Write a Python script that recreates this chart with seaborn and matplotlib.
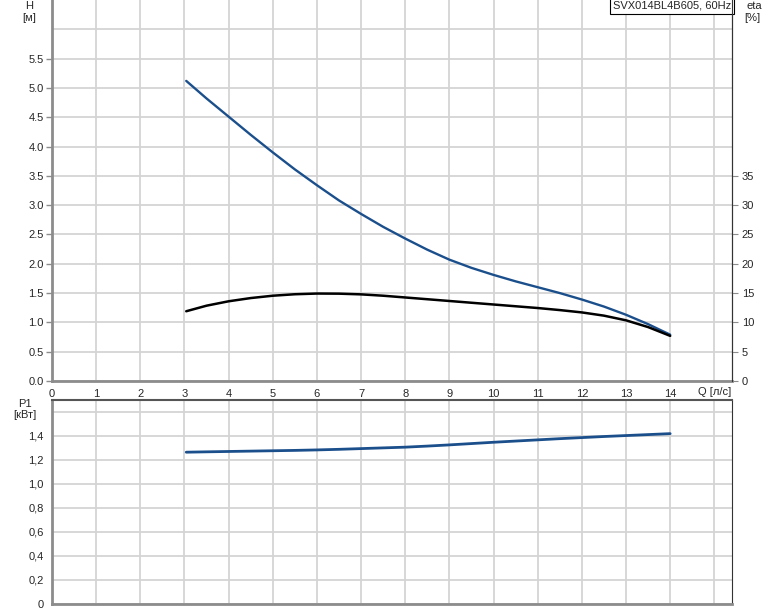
import matplotlib
matplotlib.use('Agg')
import matplotlib.pyplot as plt
import pandas as pd
import seaborn as sns

# Pontos
q = [3.04, 3.5, 4, 4.5, 5, 5.5, 6, 6.5, 7, 7.5, 8, 8.5, 9, 9.5, 10, 10.5, 11, 11.5, 12, 12.5, 13, 13.5, 14]
h = [5.12, 4.82, 4.51, 4.20, 3.90, 3.61, 3.34, 3.08, 2.85, 2.63, 2.43, 2.24, 2.07, 1.93, 1.81, 1.70,
     1.60, 1.50, 1.39, 1.27, 1.13, 0.97, 0.79]
eta = [11.9, 12.85, 13.6, 14.15, 14.55, 14.8, 14.92, 14.9, 14.78, 14.55, 14.25, 13.95, 13.65, 13.35,
       13.05, 12.75, 12.45, 12.1, 11.7, 11.15, 10.35, 9.2, 7.7]
p1 = [1.264, 1.267, 1.27, 1.273, 1.276, 1.279, 1.283, 1.288, 1.294, 1.30, 1.306, 1.315, 1.325, 1.336,
      1.347, 1.357, 1.367, 1.377, 1.386, 1.395, 1.403, 1.411, 1.419]

h_ticks = [0.0, 0.5, 1.0, 1.5, 2.0, 2.5, 3.0, 3.5, 4.0, 4.5, 5.0, 5.5]
eta_ticks = [0, 5, 10, 15, 20, 25, 30, 35]
p_ticks = [0, 0.2, 0.4, 0.6, 0.8, 1.0, 1.2, 1.4, 1.6]
q_ticks = list(range(0, 15))

df = pd.DataFrame({'q': q, 'h': h, 'eta': eta, 'p1': p1})

sns.set_style('white')
plt.rcParams['font.family'] = ['Liberation Sans', 'DejaVu Sans']
plt.rcParams['font.size'] = 8

azul = '#1b4f8c'
cinza = '#8c8c8c'
grade = '#d4d4d4'

fig = plt.figure(figsize=(7.74, 6.11), dpi=100)
ax = fig.add_axes([52 / 774, 1 - 381 / 611, 680 / 774, 381 / 611])
ax2 = ax.twinx()
axp = fig.add_axes([52 / 774, 1 - 603.5 / 611, 680 / 774, 203.5 / 611])

sns.lineplot(data=df, x='q', y='h', ax=ax, color=azul, linewidth=1.7)
sns.lineplot(data=df, x='q', y='eta', ax=ax2, color='black', linewidth=1.8)
sns.lineplot(data=df, x='q', y='p1', ax=axp, color=azul, linewidth=2)

for a in (ax, axp):
    a.set_xlim(0, 15.4)
    a.set_xticks(q_ticks)
    a.set_xticks([15], minor=True)
    a.grid(True, which='both', color=grade, linewidth=1.3)
    a.set_axisbelow(True)
    a.set_xlabel('')
    a.set_ylabel('')
    for s in ('left', 'bottom'):
        a.spines[s].set_color(cinza)
        a.spines[s].set_linewidth(2)
    a.spines['right'].set_color('#333333')
    a.spines['right'].set_linewidth(0.8)
    a.spines['top'].set_color('#555555')
    a.spines['top'].set_linewidth(1.5)
    a.tick_params(axis='both', which='major', direction='out', length=4, width=1, color=cinza,
                  labelsize=8, pad=2)
    a.tick_params(axis='both', which='minor', length=0)

# eixo superior
ax.set_ylim(0, 6.5)
ax.set_yticks(h_ticks)
ax.set_yticks([6.0], minor=True)
ax.set_yticklabels([f'{v:.1f}' for v in h_ticks])
ax.set_xticklabels([str(v) for v in q_ticks])
ax2.set_ylim(0, 65)
ax2.set_yticks(eta_ticks)
ax2.set_yticklabels([str(v) for v in eta_ticks])
ax2.set_ylabel('')
ax2.tick_params(axis='y', direction='out', length=4, color=cinza, labelsize=8, pad=3)
for s in ax2.spines.values():
    s.set_visible(False)
ax2.spines['right'].set_visible(True)
ax2.spines['right'].set_color('#333333')
ax2.spines['right'].set_linewidth(0.8)
ax.spines['top'].set_visible(False)

# eixo inferior
axp.set_ylim(0, 1.7)
axp.set_yticks(p_ticks)
axp.set_yticklabels(['0'] + [f'{v:.1f}'.replace('.', ',') for v in p_ticks[1:-1]] + [''])
axp.tick_params(axis='x', which='both', length=0, labelbottom=False)

# rótulos
fig.text(29 / 774, 1 - 1 / 611, 'H', ha='center', va='top', fontsize=8)
fig.text(29 / 774, 1 - 13 / 611, '[м]', ha='center', va='top', fontsize=8)
fig.text(754 / 774, 1 - 1 / 611, 'eta', ha='center', va='top', fontsize=8)
fig.text(752 / 774, 1 - 13 / 611, '[%]', ha='center', va='top', fontsize=8)
fig.text(715 / 774, 1 - 392 / 611, 'Q [л/с]', ha='center', va='center', fontsize=8)
fig.text(25 / 774, 1 - 399 / 611, 'P1', ha='center', va='top', fontsize=8)
fig.text(25 / 774, 1 - 410 / 611, '[кВт]', ha='center', va='top', fontsize=8)
ax.text(0.9985, 0.998, 'SVX014BL4B605, 60Hz', transform=ax.transAxes, ha='right', va='top',
        fontsize=8, bbox=dict(boxstyle='square,pad=0.25', facecolor='white',
                              edgecolor='black', linewidth=0.8), zorder=10)

fig.savefig('out.png', dpi=100)
